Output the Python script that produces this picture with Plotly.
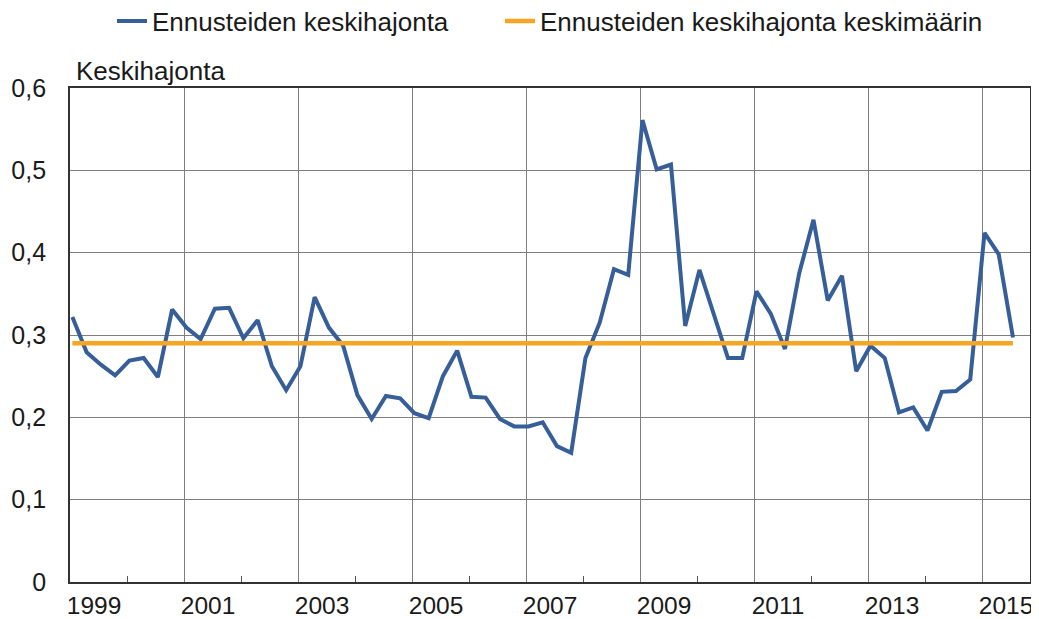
import plotly.graph_objects as go

# Quarterly observations, 1999Q1 .. 2015Q3
start_year = 1999
dispersion = [
    0.322, 0.279, 0.264, 0.251, 0.269, 0.272, 0.249, 0.331,
    0.309, 0.295, 0.332, 0.333, 0.296, 0.318, 0.262, 0.233,
    0.262, 0.346, 0.309, 0.287, 0.227, 0.198, 0.226, 0.223,
    0.205, 0.199, 0.250, 0.281, 0.225, 0.224, 0.198, 0.189,
    0.189, 0.194, 0.165, 0.157, 0.272, 0.315, 0.380, 0.373,
    0.561, 0.501, 0.507, 0.311, 0.379, 0.325, 0.272, 0.272,
    0.353, 0.326, 0.283, 0.375, 0.440, 0.342, 0.372, 0.256,
    0.287, 0.272, 0.206, 0.212, 0.184, 0.231, 0.232, 0.246,
    0.424, 0.398, 0.297,
]
average_value = 0.29
year_labels = ["1999", "2001", "2003", "2005", "2007", "2009", "2011", "2013", "2015"]
year_label_vals = [1999, 2001, 2003, 2005, 2007, 2009, 2011, 2013, 2015]
minor_tick_years = [2000, 2002, 2004, 2006, 2008, 2010, 2012, 2014]
y_tick_vals = [0, 0.1, 0.2, 0.3, 0.4, 0.5, 0.6]
y_tick_text = ["0", "0,1", "0,2", "0,3", "0,4", "0,5", "0,6"]

# x position: middle of the first month of each quarter
x = [start_year + (3 * k + 0.5) / 12 for k in range(len(dispersion))]
avg = [average_value for _ in x]

BLUE = "#365e98"
ORANGE = "#f5a623"
FONT = "Arial, Liberation Sans, sans-serif"
TXT = "#1a1a1a"

# the page body has an 8px default margin; size the figure so it fits the window
W, H = 1031, 611

fig = go.Figure()
fig.add_trace(go.Scatter(x=x, y=dispersion, mode="lines", name="Ennusteiden keskihajonta",
                         line=dict(color=BLUE, width=4), legend="legend"))
fig.add_trace(go.Scatter(x=x, y=avg, mode="lines", name="Ennusteiden keskihajonta keskimäärin",
                         line=dict(color=ORANGE, width=4.5), legend="legend2"))

legend_common = dict(orientation="h", xanchor="left", xref="container",
                     y=1 - 13 / H, yref="container", yanchor="middle",
                     font=dict(size=26, color=TXT), bgcolor="rgba(0,0,0,0)",
                     itemwidth=30)

fig.update_layout(
    width=W, height=H,
    margin=dict(l=62, r=9, t=80, b=37),
    paper_bgcolor="white", plot_bgcolor="white",
    font=dict(family=FONT, size=25, color=TXT),
    showlegend=True,
    legend=dict(x=104 / W, **legend_common),
    legend2=dict(x=492 / W, **legend_common),
    xaxis=dict(
        range=[1999, 2015.84], automargin=False,
        tickmode="array", tickvals=year_label_vals, ticktext=year_labels,
        ticklabelshift=24, ticklabelstandoff=1,
        showgrid=True, gridcolor="#7f7f7f", gridwidth=1.2,
        ticks="", showline=True, linecolor="#333333", linewidth=1.8, mirror=True,
        zeroline=False,
        tickfont=dict(size=24.5, color=TXT),
        minor=dict(tickmode="array", tickvals=minor_tick_years, ticks="inside",
                   ticklen=6, tickcolor="#555555", tickwidth=1, showgrid=False),
    ),
    yaxis=dict(
        range=[0, 0.6], automargin=False,
        tickmode="array", tickvals=y_tick_vals, ticktext=y_tick_text,
        showgrid=True, gridcolor="#7f7f7f", gridwidth=1.2,
        ticks="", showline=True, linecolor="#333333", linewidth=1.8, mirror=True,
        zeroline=False, ticklabelstandoff=17,
        tickfont=dict(size=25, color=TXT),
    ),
    annotations=[dict(text="Keskihajonta", xref="paper", yref="paper", x=0, y=1,
                      xanchor="left", yanchor="bottom", xshift=4, yshift=0,
                      showarrow=False, font=dict(size=26, color=TXT))],
)

fig.write_html("out.html")
